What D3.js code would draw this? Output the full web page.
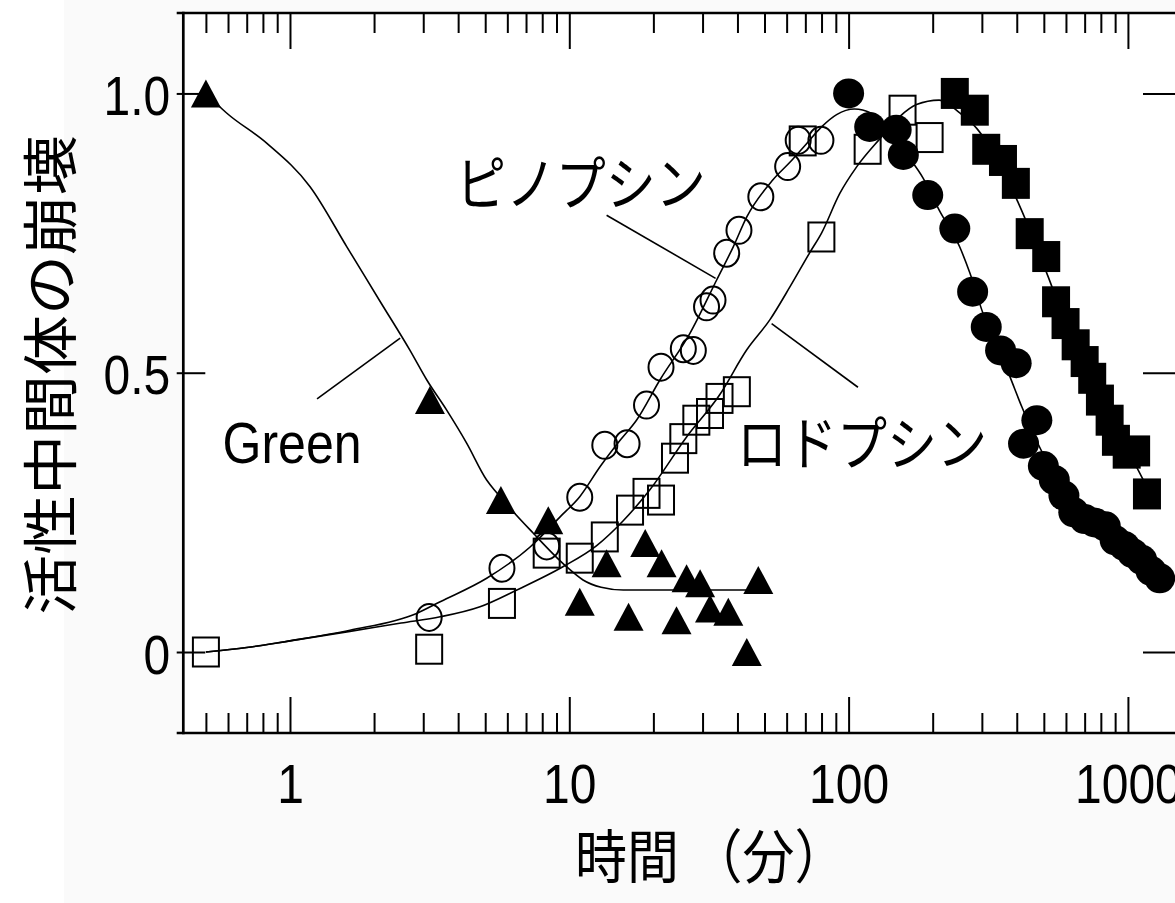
<!DOCTYPE html>
<html>
<head>
<meta charset="utf-8">
<script src="https://cdn.jsdelivr.net/npm/d3@7"></script>
<style>
  html, body { margin: 0; padding: 0; background: #ffffff; }
  svg { display: block; }
</style>
</head>
<body>
<svg id="chart" width="1175" height="903"></svg>
<script>
// ---- data: time (minutes) and normalised decay of the active intermediate ----
const greenTime  = [0.5, 3.17, 5.69, 8.41, 10.9, 13.6, 16.3, 18.7, 21.4, 24.2, 26.3, 29.4, 31.9, 37.1, 43.2, 47.5];
const greenValue = [1.0, 0.451, 0.272, 0.236, 0.09, 0.159, 0.063, 0.195, 0.159, 0.057, 0.132, 0.123, 0.078, 0.072, 0.0, 0.129];

// pinopsin, formation (open circles)
const pinoRiseTime  = [3.15, 5.74, 8.3, 10.9, 13.4, 16.1, 18.9, 21.3, 25.6, 27.8, 31, 32.7, 36.6, 40.5, 48.5, 60.5, 66, 79.6];
const pinoRiseValue = [0.062, 0.15, 0.19, 0.277, 0.37, 0.373, 0.442, 0.51, 0.543, 0.54, 0.618, 0.63, 0.714, 0.755, 0.815, 0.869, 0.916, 0.916];

// pinopsin, decay (filled circles)
const pinoDecayTime  = [100, 119, 148, 157, 192, 240, 278, 311, 350, 398, 423, 472, 498, 545, 590, 640, 700, 760, 830, 900, 970, 1040, 1120, 1210, 1300];
const pinoDecayValue = [1.0, 0.94, 0.935, 0.89, 0.818, 0.758, 0.645, 0.582, 0.54, 0.517, 0.373, 0.415, 0.333, 0.308, 0.28, 0.25, 0.238, 0.232, 0.225, 0.2, 0.19, 0.177, 0.165, 0.145, 0.132];

// rhodopsin, formation (open squares)
const rhodoRiseTime  = [0.5, 3.15, 5.74, 8.3, 10.9, 13.4, 16.5, 18.9, 21.3, 23.9, 25.6, 28.5, 31.9, 34.5, 39.8, 68.5, 79.9, 117, 156, 195];
const rhodoRiseValue = [0.0, 0.005, 0.087, 0.177, 0.168, 0.206, 0.254, 0.284, 0.272, 0.347, 0.382, 0.415, 0.427, 0.454, 0.466, 0.915, 0.743, 0.9, 0.97, 0.921];

// rhodopsin, decay (filled squares)
const rhodoDecayTime  = [240, 283, 311, 357, 397, 445, 510, 553, 598, 650, 700, 745, 794, 860, 906, 990, 1070, 1170];
const rhodoDecayValue = [1.0, 0.97, 0.9, 0.88, 0.839, 0.749, 0.708, 0.627, 0.588, 0.55, 0.52, 0.49, 0.451, 0.415, 0.379, 0.356, 0.36, 0.283];

// fitted curves
const greenFitTime  = [0.5, 0.593, 0.825, 1.18, 1.6, 2.1, 2.69, 3.09, 3.64, 4.29, 5.06, 5.5, 7.42, 9.81, 11.2, 13, 15.6, 52];
const greenFitValue = [1.0, 0.965, 0.911, 0.833, 0.725, 0.628, 0.54, 0.487, 0.433, 0.374, 0.308, 0.285, 0.213, 0.152, 0.129, 0.116, 0.111, 0.111];

const pinoFitTime  = [0.5, 0.7, 1.0, 1.64, 2.84, 3.45, 5.06, 7.24, 9.27, 10.9, 12.9, 15.2, 17.4, 21.1, 27, 33.7, 38.6, 43.2, 53.5, 62, 70.7, 80, 90.6, 105, 120, 140, 162, 185, 211, 250, 272, 303, 340, 378, 417, 495, 600, 750, 950, 1300];
const pinoFitValue = [0.0, 0.008, 0.02, 0.039, 0.069, 0.09, 0.132, 0.188, 0.242, 0.278, 0.332, 0.379, 0.415, 0.487, 0.57, 0.666, 0.725, 0.779, 0.845, 0.878, 0.91, 0.94, 0.962, 0.972, 0.965, 0.935, 0.89, 0.848, 0.791, 0.725, 0.678, 0.606, 0.55, 0.493, 0.439, 0.356, 0.29, 0.235, 0.19, 0.14];

const rhodoFitTime  = [0.5, 0.7, 1.0, 1.64, 2.5, 3.45, 4.79, 6.49, 9.52, 12.5, 15.6, 19.4, 26.3, 34.5, 43.2, 52.3, 61.7, 72.6, 80, 93, 107, 130, 152, 175, 211, 250, 288, 350, 411, 518, 650, 800, 1000, 1170];
const rhodoFitValue = [0.0, 0.008, 0.02, 0.037, 0.052, 0.063, 0.081, 0.111, 0.153, 0.19, 0.235, 0.29, 0.385, 0.46, 0.541, 0.595, 0.654, 0.715, 0.75, 0.821, 0.869, 0.92, 0.958, 0.98, 0.988, 0.965, 0.937, 0.87, 0.797, 0.672, 0.54, 0.44, 0.36, 0.295];

// axis ticks
const xMajorTicks = [1, 10, 100, 1000];
const xMinorTicks = [0.5, 0.6, 0.7, 0.8, 0.9, 2, 3, 4, 5, 6, 7, 8, 9, 20, 30, 40, 50, 60, 70, 80, 90, 200, 300, 400, 500, 600, 700, 800, 900];
const yTicks = [0, 0.5, 1.0];
const yTickLabels = ["0", "0.5", "1.0"];

// annotation labels and their leader lines
const labelTexts = ["ピノプシン", "ロドプシン", "Green"];
const labelTime  = [11.0, 111.7, 1.017];
const labelValue = [0.845, 0.379, 0.375];
const leaderStart = [[13.6, 0.782], [53, 0.588], [1.25, 0.453]];
const leaderEnd   = [[33.4, 0.669], [108, 0.474], [2.48, 0.562]];

const yTitle = "活性中間体の崩壊";
const xTitle = "時間 （分）";

(function draw() {
  const svg = d3.select("#chart");
  const W = 1175, H = 903;
  const plotLeft = 183.3, plotRight = 1181, plotTop = 13, plotBottom = 733;

  const x = d3.scaleLog().domain([0.415, 1549]).range([plotLeft, plotRight]);
  const y = d3.scaleLinear().domain([-0.145, 1.144]).range([plotBottom, plotTop]);

  const numFont = "'Liberation Sans', Arial, Helvetica, sans-serif";
  const jpFont = "'Noto Sans CJK JP', 'Noto Sans CJK SC', sans-serif";
  const stretchY = 1.16;

  // background
  svg.append("rect").attr("x", 0).attr("y", 0).attr("width", W).attr("height", H).attr("fill", "#fafafa");
  svg.append("rect").attr("x", 0).attr("y", 0).attr("width", 64).attr("height", H).attr("fill", "#ffffff");
  svg.append("rect").attr("x", plotLeft).attr("y", plotTop)
    .attr("width", plotRight - plotLeft).attr("height", plotBottom - plotTop).attr("fill", "#ffffff");

  // ---- axes ----
  function styleAxis(g) {
    g.select(".domain").remove();
    g.selectAll(".tick line").attr("stroke", "#000").attr("stroke-width", 2);
  }

  // bottom axis: ticks pointing up into the plot
  const bottomMajor = svg.append("g").attr("transform", `translate(0,${plotBottom})`)
    .call(d3.axisBottom(x).tickValues(xMajorTicks).tickSize(-36).tickFormat(d3.format("d")));
  styleAxis(bottomMajor);
  bottomMajor.selectAll(".tick text")
    .attr("x", null).attr("y", null).attr("dy", null)
    .attr("transform", `translate(0,70) scale(1,${stretchY})`)
    .attr("font-family", numFont).attr("font-size", 48).attr("fill", "#000")
    .attr("text-anchor", "middle");

  const bottomMinor = svg.append("g").attr("transform", `translate(0,${plotBottom})`)
    .call(d3.axisBottom(x).tickValues(xMinorTicks).tickSize(-20).tickFormat(""));
  styleAxis(bottomMinor);

  // top axis: ticks pointing down into the plot
  const topMajor = svg.append("g").attr("transform", `translate(0,${plotTop})`)
    .call(d3.axisTop(x).tickValues(xMajorTicks).tickSize(-36).tickFormat(""));
  styleAxis(topMajor);
  const topMinor = svg.append("g").attr("transform", `translate(0,${plotTop})`)
    .call(d3.axisTop(x).tickValues(xMinorTicks).tickSize(-20).tickFormat(""));
  styleAxis(topMinor);

  // left axis: ticks cross the spine
  const leftAxis = svg.append("g").attr("transform", `translate(${plotLeft},0)`)
    .call(d3.axisLeft(y).tickValues(yTicks).tickSize(-22).tickFormat((d, i) => yTickLabels[i]));
  styleAxis(leftAxis);
  leftAxis.selectAll(".tick line").attr("x1", -6.6).attr("x2", 22);
  leftAxis.selectAll(".tick text")
    .attr("x", null).attr("y", null).attr("dy", null)
    .attr("transform", `translate(-13,21) scale(1,${stretchY})`)
    .attr("font-family", numFont).attr("font-size", 48).attr("fill", "#000")
    .attr("text-anchor", "end");

  // right axis: long inward ticks
  const rightAxis = svg.append("g").attr("transform", `translate(${plotRight},0)`)
    .call(d3.axisRight(y).tickValues(yTicks).tickSize(-38).tickFormat(""));
  styleAxis(rightAxis);

  // frame
  const frame = svg.append("g").attr("stroke", "#000").attr("stroke-width", 2.7).attr("fill", "none");
  frame.append("line").attr("x1", plotLeft - 6.6).attr("x2", plotRight + 10).attr("y1", plotTop).attr("y2", plotTop);
  frame.append("line").attr("x1", plotLeft - 6.6).attr("x2", plotRight + 10).attr("y1", plotBottom).attr("y2", plotBottom);
  frame.append("line").attr("x1", plotLeft).attr("x2", plotLeft).attr("y1", plotTop - 1.3).attr("y2", plotBottom + 1.3);
  frame.append("line").attr("x1", plotRight).attr("x2", plotRight).attr("y1", plotTop - 1.3).attr("y2", plotBottom + 1.3);

  // ---- fitted curves ----
  const zip = (ts, vs) => ts.map((t, i) => [t, vs[i]]);
  const line = d3.line().x(d => x(d[0])).y(d => y(d[1])).curve(d3.curveMonotoneX);
  const curves = svg.append("g").attr("fill", "none").attr("stroke", "#000").attr("stroke-width", 1.6);
  [[greenFitTime, greenFitValue], [pinoFitTime, pinoFitValue], [rhodoFitTime, rhodoFitValue]]
    .forEach(([ts, vs]) => curves.append("path").attr("d", line(zip(ts, vs))));

  // ---- leader lines ----
  const leaders = svg.append("g").attr("stroke", "#000").attr("stroke-width", 1.6);
  leaderStart.forEach((s, i) => {
    const e = leaderEnd[i];
    leaders.append("line")
      .attr("x1", x(s[0])).attr("y1", y(s[1]))
      .attr("x2", x(e[0])).attr("y2", y(e[1]));
  });

  // ---- markers ----
  const marks = svg.append("g");

  // open circles
  marks.append("g").selectAll("ellipse").data(zip(pinoRiseTime, pinoRiseValue)).join("ellipse")
    .attr("cx", d => x(d[0])).attr("cy", d => y(d[1]))
    .attr("rx", 12.5).attr("ry", 13.5)
    .attr("fill", "none").attr("stroke", "#000").attr("stroke-width", 2);

  // open squares
  marks.append("g").selectAll("rect").data(zip(rhodoRiseTime, rhodoRiseValue)).join("rect")
    .attr("x", d => x(d[0]) - 13).attr("y", d => y(d[1]) - 14.5)
    .attr("width", 26).attr("height", 29)
    .attr("fill", "none").attr("stroke", "#000").attr("stroke-width", 2);

  // filled circles
  marks.append("g").selectAll("ellipse").data(zip(pinoDecayTime, pinoDecayValue)).join("ellipse")
    .attr("cx", d => x(d[0])).attr("cy", d => y(d[1]))
    .attr("rx", 15.5).attr("ry", 15)
    .attr("fill", "#000");

  // filled squares
  marks.append("g").selectAll("rect").data(zip(rhodoDecayTime, rhodoDecayValue)).join("rect")
    .attr("x", d => x(d[0]) - 14).attr("y", d => y(d[1]) - 15.5)
    .attr("width", 28).attr("height", 31)
    .attr("fill", "#000");

  // filled triangles
  marks.append("g").selectAll("path").data(zip(greenTime, greenValue)).join("path")
    .attr("d", d => {
      const cx = x(d[0]), cy = y(d[1]);
      return `M${cx},${cy - 14}L${cx + 15},${cy + 14}L${cx - 15},${cy + 14}Z`;
    })
    .attr("fill", "#000");

  // ---- annotation labels ----
  labelTexts.forEach((txt, i) => {
    const isLatin = /^[A-Za-z]+$/.test(txt);
    svg.append("text")
      .attr("transform", `translate(${x(labelTime[i])},${y(labelValue[i])}) scale(1,${stretchY})`)
      .attr("text-anchor", "middle")
      .attr("dominant-baseline", "central")
      .attr("font-family", isLatin ? numFont : jpFont)
      .attr("font-size", isLatin ? 50 : 50)
      .attr("fill", "#000")
      .text(txt);
  });

  // ---- axis titles ----
  svg.append("text")
    .attr("transform", `translate(47,375) rotate(-90) scale(1.07,1)`)
    .attr("text-anchor", "middle")
    .attr("dominant-baseline", "central")
    .attr("font-family", jpFont)
    .attr("font-size", 56)
    .attr("fill", "#000")
    .text(yTitle);

  svg.append("text")
    .attr("transform", `translate(575,878) scale(1,1.12)`)
    .attr("text-anchor", "start")
    .attr("font-family", jpFont)
    .attr("font-size", 52)
    .attr("fill", "#000")
    .text(xTitle);
})();
</script>
</body>
</html>
